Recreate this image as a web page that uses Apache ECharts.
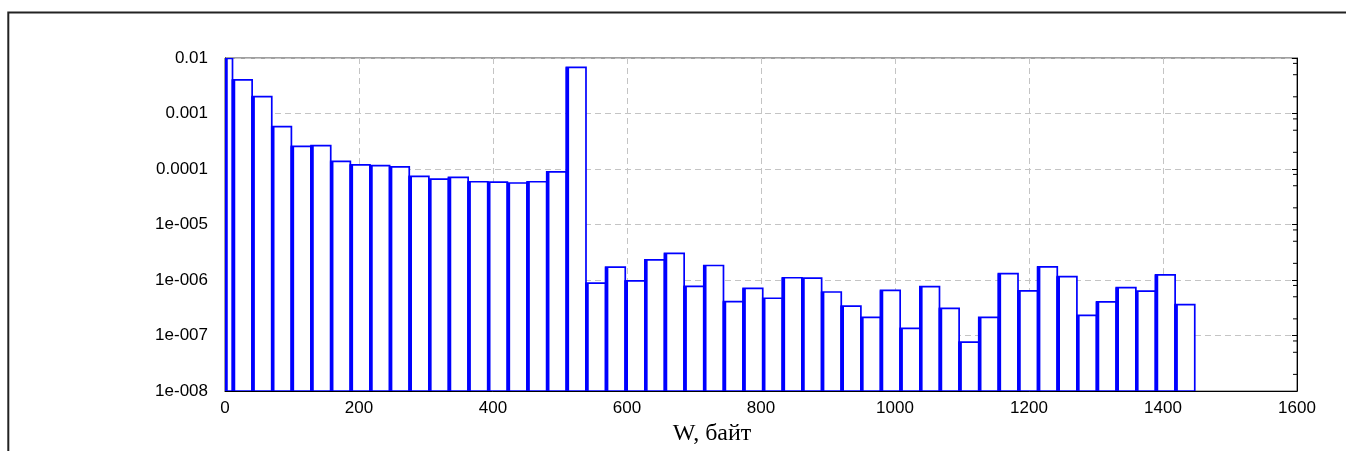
<!DOCTYPE html>
<html>
<head>
<meta charset="utf-8">
<script src="https://cdn.jsdelivr.net/npm/echarts@6/dist/echarts.min.js"></script>
<style>
html,body{margin:0;padding:0;background:#fff;}
#chart{width:1346px;height:451px;}
</style>
</head>
<body>
<div id="chart"></div>
<script>
// Histogram bin edges (W, bytes)
const binEdges = [0, 11.2, 40.5, 69.8, 99.1, 128.4, 157.8, 187.1, 216.4, 245.7, 275.0,
  304.3, 333.6, 362.9, 392.2, 421.5, 450.9, 480.2, 509.5, 538.8, 568.1,
  597.4, 626.7, 656.0, 685.3, 714.6, 744.0, 773.3, 802.6, 831.9, 861.2,
  890.5, 919.8, 949.1, 978.4, 1007.7, 1037.1, 1066.4, 1095.7, 1125.0, 1154.3,
  1183.6, 1212.9, 1242.2, 1271.5, 1300.8, 1330.2, 1359.5, 1388.8, 1418.1, 1447.4];
// Frequency per bin
const values = [0.0098, 4.05e-3, 2.01e-3, 5.8e-4, 2.57e-4, 2.65e-4, 1.37e-4, 1.19e-4, 1.15e-4, 1.09e-4,
  7.4e-5, 6.6e-5, 7.1e-5, 5.9e-5, 5.8e-5, 5.6e-5, 5.9e-5, 8.9e-5, 6.8e-3, 8.8e-7,
  1.71e-6, 9.7e-7, 2.31e-6, 3.03e-6, 7.7e-7, 1.83e-6, 4.1e-7, 7.1e-7, 4.7e-7, 1.1e-6,
  1.08e-6, 6.1e-7, 3.4e-7, 2.13e-7, 6.5e-7, 1.35e-7, 7.6e-7, 3.1e-7, 7.6e-8, 2.13e-7,
  1.31e-6, 6.4e-7, 1.73e-6, 1.15e-6, 2.31e-7, 4.05e-7, 7.3e-7, 6.3e-7, 1.24e-6, 3.6e-7];
// Axis ticks
const xMin = 0, xMax = 1600, xStep = 200;
const yExponents = [-8, -7, -6, -5, -4, -3, -2];
const yTickLabels = ['1e-008', '1e-007', '1e-006', '1e-005', '0.0001', '0.001', '0.01'];
const minorMultipliers = [2, 5, 8];
const xAxisName = 'W, байт';

const barData = values.map((v, i) => [binEdges[i], binEdges[i + 1], v]);
const yMin = Math.pow(10, yExponents[0]);
const yMax = Math.pow(10, yExponents[yExponents.length - 1]);
const minorTickData = [];
for (let k = 0; k < yExponents.length - 1; k++) {
  minorMultipliers.forEach(m => minorTickData.push([m * Math.pow(10, yExponents[k])]));
}

const chart = echarts.init(document.getElementById('chart'), null, {renderer: 'canvas'});
const labelFont = {fontFamily: 'Liberation Sans, Arial, sans-serif', fontSize: 17, color: '#000'};

chart.setOption({
  animation: false,
  backgroundColor: '#fff',
  grid: {left: 225, top: 58, width: 1072, height: 335, show: true, borderColor: '#404040', borderWidth: 1, backgroundColor: 'transparent'},
  graphic: [{
    type: 'polyline', z: 100,
    shape: {points: [[8.3, 460], [8.3, 12.5], [1350, 12.5]]},
    style: {stroke: '#222', lineWidth: 2, fill: null}
  }],
  xAxis: {
    type: 'value', min: xMin, max: xMax, interval: xStep,
    name: xAxisName, nameLocation: 'middle', nameGap: 27,
    nameTextStyle: {fontFamily: 'Liberation Serif, Times New Roman, serif', fontSize: 24, color: '#000', padding: [0, 98, 0, 0]},
    axisLine: {show: true, lineStyle: {color: '#000', width: 1}},
    axisTick: {show: true, inside: true, length: 4, lineStyle: {color: '#000'}},
    axisLabel: Object.assign({margin: 9, formatter: v => String(v)}, labelFont),
    splitLine: {show: true, lineStyle: {color: '#c4c4c4', type: [6, 4], width: 1}}
  },
  yAxis: [{
    type: 'log', logBase: 10, min: yMin, max: yMax,
    axisLine: {show: true, lineStyle: {color: '#000', width: 1}},
    axisTick: {show: true, inside: true, length: 5, lineStyle: {color: '#000'}},
    axisLabel: Object.assign({
      margin: 17,
      formatter: v => {
        const e = Math.round(Math.log10(v));
        const i = yExponents.indexOf(e);
        return i >= 0 ? yTickLabels[i] : '';
      }
    }, labelFont),
    splitLine: {show: true, lineStyle: {color: '#c4c4c4', type: [6, 4], width: 1}}
  }, {
    type: 'log', logBase: 10, min: yMin, max: yMax, position: 'right',
    axisLine: {show: true, lineStyle: {color: '#000', width: 1}},
    axisTick: {show: true, inside: true, length: 5, lineStyle: {color: '#000'}},
    axisLabel: {show: false},
    splitLine: {show: false}
  }],
  series: [{
    type: 'custom',
    name: 'minorTicks',
    xAxisIndex: 0, yAxisIndex: 0,
    z: 1,
    silent: true,
    encode: {y: 0},
    data: minorTickData,
    renderItem: function (params, api) {
      const v = api.value(0);
      const pl = api.coord([xMin, v]);
      const pr = api.coord([xMax, v]);
      return {
        type: 'group',
        children: [
          {type: 'line', shape: {x1: pl[0], y1: pl[1], x2: pl[0] + 4, y2: pl[1]}, style: {stroke: '#000', lineWidth: 1}},
          {type: 'line', shape: {x1: pr[0] - 4, y1: pr[1], x2: pr[0], y2: pr[1]}, style: {stroke: '#000', lineWidth: 1}}
        ]
      };
    }
  }, {
    type: 'custom',
    name: 'hist',
    xAxisIndex: 0, yAxisIndex: 0,
    z: 3,
    clip: true,
    encode: {x: [0, 1], y: 2},
    data: barData,
    renderItem: function (params, api) {
      const x0 = api.value(0), x1 = api.value(1), v = api.value(2);
      const pTop = api.coord([x0, v]);
      const pBot = api.coord([x1, yMin]);
      const left = pTop[0], right = pBot[0], top = pTop[1], bottom = pBot[1];
      return {
        type: 'group',
        children: [
          {type: 'rect', shape: {x: left, y: top, width: right - left, height: bottom - top},
           style: {fill: '#fff', stroke: '#0000ff', lineWidth: 1.7}},
          {type: 'line', shape: {x1: left + 1, y1: top, x2: left + 1, y2: bottom},
           style: {stroke: '#0000ff', lineWidth: 3.5}}
        ]
      };
    }
  }]
});
</script>
</body>
</html>
